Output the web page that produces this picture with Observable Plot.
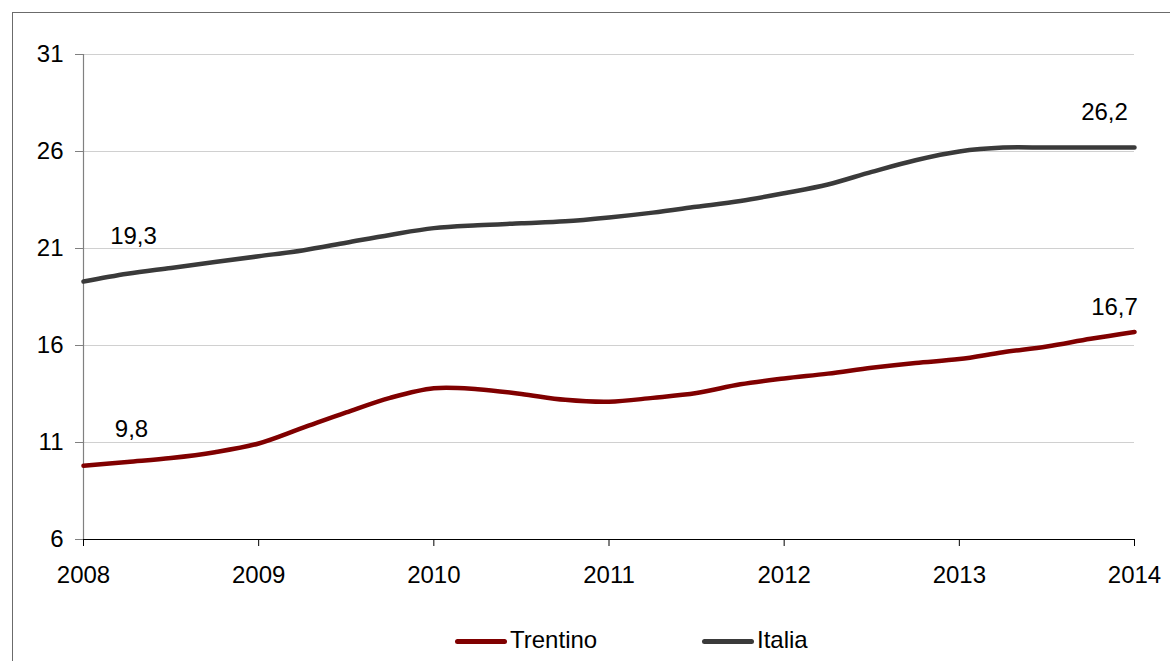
<!DOCTYPE html>
<html>
<head>
<meta charset="utf-8">
<script src="https://cdn.jsdelivr.net/npm/d3@7"></script>
<script src="https://cdn.jsdelivr.net/npm/@observablehq/plot@0.6"></script>
<style>
  html, body { margin: 0; padding: 0; background: #fff; width: 1170px; height: 661px; overflow: hidden; }
  #frame { position: absolute; left: 12px; top: 12px; width: 1300px; height: 800px; border: 1px solid #6b6b6b; box-sizing: border-box; }
  #chart { position: absolute; left: 0; top: 0; }
  #legend { position: absolute; left: 0; top: 610px; width: 1170px; height: 51px; font-family: "Liberation Sans", Arial, sans-serif; font-size: 24px; color: #000; }
  .sw { position: absolute; height: 5px; border-radius: 3px; }
  .lb { position: absolute; line-height: 28px; white-space: nowrap; }
</style>
</head>
<body>
<div id="frame"></div>
<div id="chart"></div>
<div id="legend"></div>
<script>
// ---- data ----
const periods = [2008, 2008.25, 2008.5, 2008.75, 2009, 2009.25, 2009.5, 2009.75,
                 2010, 2010.25, 2010.5, 2010.75, 2011, 2011.25, 2011.5, 2011.75,
                 2012, 2012.25, 2012.5, 2012.75, 2013, 2013.25, 2013.5, 2013.75, 2014];
const trentino = [9.8, 10.0, 10.2, 10.5, 10.95, 11.75, 12.55, 13.3,
                  13.8, 13.75, 13.5, 13.2, 13.1, 13.3, 13.55, 14.0,
                  14.3, 14.55, 14.85, 15.1, 15.3, 15.65, 15.95, 16.35, 16.7];
const italia = [19.3, 19.7, 20.0, 20.3, 20.6, 20.9, 21.3, 21.7,
                22.05, 22.2, 22.3, 22.4, 22.6, 22.85, 23.15, 23.45,
                23.85, 24.3, 24.95, 25.55, 26.0, 26.2, 26.2, 26.2, 26.2];
const seriesNames = ["Trentino", "Italia"];
const seriesColors = ["#800000", "#3a3a3a"];
const xTicks = [2008, 2009, 2010, 2011, 2012, 2013, 2014];
const yTicks = [6, 11, 16, 21, 26, 31];
const labelPoints = [
  {series: "Italia", x: 2008, y: 19.3, text: "19,3"},
  {series: "Trentino", x: 2008, y: 9.8, text: "9,8"},
  {series: "Italia", x: 2014, y: 26.2, text: "26,2"},
  {series: "Trentino", x: 2014, y: 16.7, text: "16,7"}
];
// label offsets (pixels) relative to the point
const labelDx = [50, 48, -30, -20];
const labelDy = [-45, -36, -35, -25];

// ---- table ----
const rows = [];
periods.forEach((p, i) => {
  rows.push({series: "Trentino", x: p, y: trentino[i]});
  rows.push({series: "Italia", x: p, y: italia[i]});
});

const font = '"Liberation Sans", Arial, sans-serif';

const plot = Plot.plot({
  width: 1170,
  height: 610,
  marginLeft: 83,
  marginRight: 36,
  marginTop: 54,
  marginBottom: 71,
  style: {fontFamily: font, fontSize: "24px", color: "#000", background: "transparent", overflow: "visible"},
  x: {domain: [2008, 2014]},
  y: {domain: [6, 31]},
  marks: [
    Plot.gridY(yTicks.filter(d => d > 6), {stroke: "#d0d0d0", strokeOpacity: 1, strokeWidth: 1.2}),
    Plot.axisY(yTicks, {tickSize: 8, tickPadding: 12, stroke: "#808080", fill: "#000", fontSize: 24, tickFormat: d => String(d), label: null}),
    Plot.axisX(xTicks, {tickSize: 7, tickPadding: 19, stroke: "#000", fill: "#000", fontSize: 24, tickFormat: d => String(d), label: null}),
    Plot.ruleX([2008], {stroke: "#808080", strokeWidth: 1.2}),
    Plot.ruleY([6], {stroke: "#000", strokeWidth: 1.2}),
    Plot.line(rows, {
      x: "x", y: "y", z: "series",
      stroke: d => seriesColors[seriesNames.indexOf(d.series)],
      strokeWidth: 4.5, strokeLinecap: "round", strokeLinejoin: "round",
      curve: "catmull-rom"
    }),
    ...labelPoints.map((d, i) => Plot.text([d], {
      x: "x", y: "y", text: "text",
      dx: labelDx[i], dy: labelDy[i],
      fontSize: 24, fill: "#000", textAnchor: "middle"
    }))
  ]
});
document.getElementById("chart").appendChild(plot);

// ---- legend ----
const legend = document.getElementById("legend");
const legendX = [455, 702];
seriesNames.forEach((name, i) => {
  const sw = document.createElement("div");
  sw.className = "sw";
  sw.style.left = legendX[i] + "px";
  sw.style.top = "29px";
  sw.style.width = "52px";
  sw.style.background = seriesColors[i];
  legend.appendChild(sw);
  const lb = document.createElement("div");
  lb.className = "lb";
  lb.style.left = (legendX[i] + 55) + "px";
  lb.style.top = "16px";
  lb.textContent = name;
  legend.appendChild(lb);
});
</script>
</body>
</html>
